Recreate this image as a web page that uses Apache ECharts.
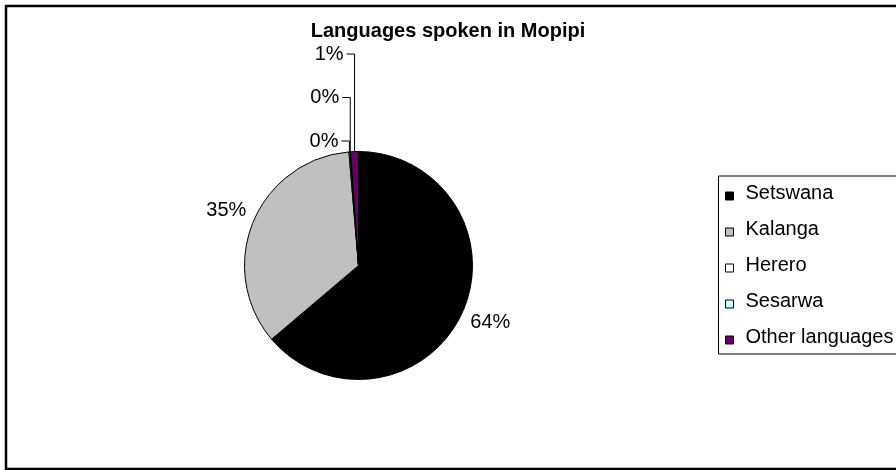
<!DOCTYPE html>
<html>
<head>
<meta charset="utf-8">
<script src="https://cdn.jsdelivr.net/npm/echarts@6/dist/echarts.min.js"></script>
<style>
  html, body { margin: 0; padding: 0; background: #fff; }
  #chart { width: 896px; height: 470px; }
</style>
</head>
<body>
<div id="chart"></div>
<script>
// Languages spoken in Mopipi (share of residents, %)
const languages = ['Setswana', 'Kalanga', 'Herero', 'Sesarwa', 'Other languages'];
const shares = [63.8, 34.86, 0.14, 0.1, 1.1];
const sliceColors = ['#000000', '#C0C0C0', '#FFFFFF', '#CCFFFF', '#660066'];
const titleText = 'Languages spoken in Mopipi';

const FONT = '"Liberation Sans", Arial, sans-serif';
const CX = 358.5, CY = 265.5, R = 114;

const total = shares.reduce((a, b) => a + b, 0);
// mid-angle of every slice, measured clockwise from 12 o'clock
const midAngles = [];
let acc = 0;
shares.forEach(v => { midAngles.push((acc + v / 2) / total * 2 * Math.PI); acc += v; });
const pct = v => Math.round(v / total * 100) + '%';

// big slices: label floats just outside the rim;
// tiny slices: labels stacked above the pie with elbow leader lines
function layoutLabel(params) {
  const i = params.dataIndex;
  const a = midAngles[i];
  const dx = Math.sin(a), dy = -Math.cos(a);
  if (i < 2) {
    return { x: CX + (R + 29) * dx + (dx > 0 ? 2 : 0), y: CY + (R + 29) * dy - (dy > 0 ? 3 : 0),
             align: 'center', verticalAlign: 'middle' };
  }
  const ex = CX + R * dx, ey = CY + R * dy;
  const ly = CY - R - 10.5 - (i - 2) * 43.5;
  return {
    x: ex - 11, y: ly, align: 'right', verticalAlign: 'middle',
    labelLinePoints: [[ex, ey], [ex, ly], [ex - 8, ly]]
  };
}

const chart = echarts.init(document.getElementById('chart'), null, { renderer: 'canvas' });
chart.setOption({
  animation: false,
  backgroundColor: '#ffffff',
  title: {
    text: titleText,
    left: 'center',
    top: 21,
    padding: 0,
    textStyle: { fontFamily: FONT, fontSize: 20, fontWeight: 'bold', color: '#000' }
  },
  legend: {
    orient: 'vertical',
    left: 725,
    top: 183,
    padding: 0,
    itemWidth: 8,
    itemHeight: 14,
    itemGap: 16,
    // square marker sitting in the lower part of its box, near the text baseline
    icon: 'path://M0,0M0,6L8,6L8,14L0,14Z',
    selectedMode: false,
    itemStyle: { borderColor: '#000', borderWidth: 1 },
    textStyle: { fontFamily: FONT, fontSize: 20, color: '#000', padding: [0, 0, 0, 7] },
    data: languages
  },
  graphic: [
    {
      type: 'rect', silent: true, z: 100,
      shape: { x: 6, y: 6, width: 900, height: 463 },
      style: { fill: 'transparent', stroke: '#000', lineWidth: 2.5 }
    },
    {
      type: 'rect', silent: true, z: 100,
      shape: { x: 718.5, y: 176, width: 200, height: 178 },
      style: { fill: 'transparent', stroke: '#000', lineWidth: 1 }
    }
  ],
  series: [{
    type: 'pie',
    center: [CX, CY],
    radius: R,
    startAngle: 90,
    clockwise: true,
    avoidLabelOverlap: false,
    emphasis: { disabled: true },
    itemStyle: { borderColor: '#000', borderWidth: 1 },
    label: {
      show: true,
      position: 'outside',
      formatter: p => pct(p.value),
      fontFamily: FONT,
      fontSize: 20,
      color: '#000'
    },
    labelLine: { show: true, length: 5, length2: 5, lineStyle: { color: '#000', width: 1 } },
    labelLayout: layoutLabel,
    data: languages.map((name, i) => ({
      name,
      value: shares[i],
      itemStyle: { color: sliceColors[i] },
      labelLine: { show: i >= 2 }
    }))
  }]
});
</script>
</body>
</html>
